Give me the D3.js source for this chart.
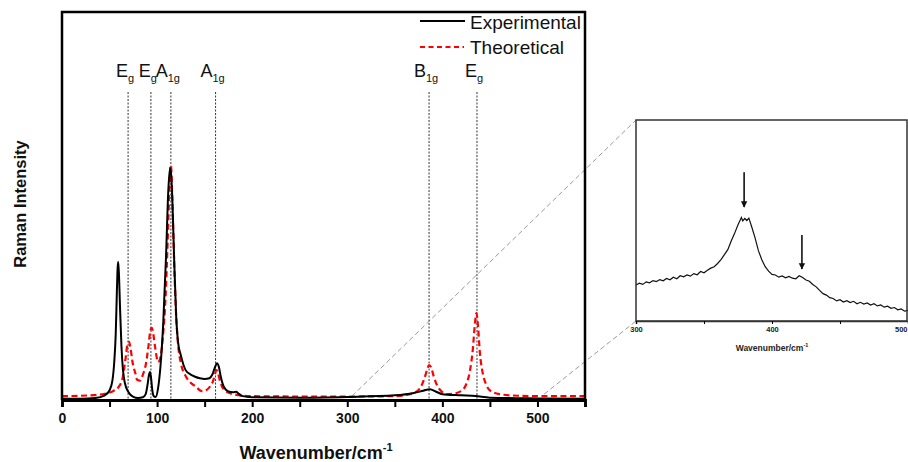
<!DOCTYPE html>
<html><head><meta charset="utf-8">
<script src="https://cdn.jsdelivr.net/npm/d3@7"></script>
<style>body{margin:0;background:#fff;}svg{display:block;font-family:Arial,"Liberation Sans",sans-serif;}</style>
</head><body><svg id="c" width="908" height="462"></svg>
<script>
// ---- Main spectrum data (wavenumber, intensity in arbitrary units) ----
const expX = [0,20,35,45,50,53,55,56.5,57.5,58.3,59,59.8,61,62.5,64,66,70,75,80,85,88,90,91.5,92.5,93.5,95,96.5,98.5,101,103.5,106.5,109.4,111.8,113.6,114.8,116,117,118,120,122,125,130,135,140,145,150,155,158,161,163,165,167,170,175,180,183,186,190,200,250,300,350,370,380,387,393,400,420,435,450,500,550];
const expY = [0.3,0.3,0.5,1.2,2.5,5,10,17,26,33,35.6,33,24,14,8,4.5,2,0.8,0.5,0.7,1.5,4,6.5,7.2,6,2.5,1,0.8,3,8.5,20,37,54,59.8,58,52,44,36,22,15,11.5,7.7,6.6,6,5.6,5.4,5.6,6.5,8.5,9.5,8.5,6,3.5,2.2,2,2.1,1.6,1,0.7,0.6,0.8,1.2,1.8,2.4,2.8,2.2,1.5,1.2,1.0,0.6,0.4,0.3];
const theoX = [0,30,45,55,60,64,67,69,70.5,72,74,77,79,82,85,88,91,93,94.5,96,98,101,103,106,109,111,113,114.5,116,118,120,122,125,130,135,140,147,152,156,159,161,162.5,164,166,168,170,175,180,190,200,250,300,350,370,377,381,384,386,388,391,394,398,405,415,420,425,429,432,434,435.8,437.5,439.5,442,446,450,460,480,500,550];
const theoY = [1.0,1.2,1.6,2.5,3.5,6,11,14.5,15,13.5,10,7,5.2,5,6.5,9,14,18,18.6,17,13.5,9.8,10.5,16,27,40,55,60.6,52,35,22,14.5,9.5,6.2,4.5,3.6,2.3,2.6,3.6,5,6.8,7.7,7,5,3.6,2.8,1.9,1.5,1.1,1.0,0.9,0.9,1.0,1.8,3.2,5.5,7.8,9,8.5,6,4,2.5,1.5,1.8,2.4,4,7.5,13,19,22.4,19,12,7.5,4,2.5,1.5,1.1,1.0,1.0];

// Mode markers
const modeX = [69.5,93.5,114.5,161.5,386,436.4];
const modeMain = ["E","E","A","A","B","E"];
const modeSub = ["g","g","1g","1g","1g","g"];

const xTicks = [0,100,200,300,400,500];
const xMinor = [50,150,250,350,450,550];

// ---- Inset data ----
const insX = [300,302.5,305,307.5,310,312.5,315,317.5,320,322.5,325,327.5,330,332.5,335,337.5,340,342.5,345,347.5,350,352.5,355,357.5,360,362.5,365,367.5,370,372.5,375,377.5,378.5,380,381.5,383,385,387.5,390,392.5,395,397.5,400,402.5,405,407.5,410,412.5,415,417.5,420,422.5,425,427.5,430,432.5,435,437.5,440,442.5,445,447.5,450,452.5,455,457.5,460,462.5,465,467.5,470,472.5,475,477.5,480,482.5,485,487.5,490,492.5,495,497.5,500];
const insY = [17.9,18.8,18.2,19.5,19.0,20.1,19.6,20.6,20.0,21.2,20.5,21.8,21.0,22.5,22.0,22.9,22.3,23.6,23.0,24.6,24.0,25.2,26.3,27.0,28.6,30.5,33.0,35.5,39.8,43.6,47.9,51.5,49.8,51.0,50.0,51.2,47.0,41.5,35.0,30.5,27.0,24.8,23.2,22.9,21.8,22.4,21.5,22.2,21.3,21.0,22.5,21.6,20.4,19.8,18.2,17.0,15.2,13.6,12.9,11.6,11.2,10.0,10.6,9.4,10.1,9.2,9.8,8.6,9.3,8.4,9.0,7.9,8.6,7.5,8.0,6.9,7.4,6.3,6.7,5.6,6.0,4.9,5.3];
const insTicks = [300,400,500];
const insMinor = [350,450];
const arrowX = [379.5,422];
const arrowTop = [74,42.8];
const arrowBot = [56.7,25.9];

// ---- Drawing ----
const svg = d3.select("#c");
const x = d3.scaleLinear().domain([0,550]).range([62,585]);
const y = d3.scaleLinear().domain([0,100]).range([400,12]);

// Zoom guide lines (drawn first, under everything)
const ix = d3.scaleLinear().domain([300,500]).range([636,908]);
const iy = d3.scaleLinear().domain([0,100]).range([321,120]);
svg.append("line").attr("x1",x(305)).attr("y1",y(1)).attr("x2",636).attr("y2",120)
  .attr("stroke","#9a9a9a").attr("stroke-width",1).attr("stroke-dasharray","5,3");
svg.append("line").attr("x1",x(507)).attr("y1",y(1.5)).attr("x2",636).attr("y2",321)
  .attr("stroke","#9a9a9a").attr("stroke-width",1).attr("stroke-dasharray","5,3");

// Mode dotted lines
svg.append("g").selectAll("line").data(modeX).join("line")
  .attr("x1",d=>x(d)).attr("x2",d=>x(d)).attr("y1",92).attr("y2",400)
  .attr("stroke","#333").attr("stroke-width",1).attr("stroke-dasharray","2,1.5");

// Mode labels
const lab = svg.append("g").selectAll("text").data(modeX).join("text")
  .attr("x",(d,i)=>x(d)-3).attr("y",77).attr("text-anchor","middle")
  .attr("font-size",18).attr("fill","#111");
lab.append("tspan").text((d,i)=>modeMain[i]);
lab.append("tspan").attr("dy",5).attr("font-size",11).text((d,i)=>modeSub[i]);

// curves
const lineGen = (xs,ys)=>d3.line().x(i=>x(xs[i])).y(i=>y(ys[i])).curve(d3.curveMonotoneX)(d3.range(xs.length));
svg.append("path").attr("d",lineGen(theoX,theoY)).attr("fill","none")
  .attr("stroke","#ff0000").attr("stroke-width",2.2).attr("stroke-dasharray","6,3.5");
svg.append("path").attr("d",lineGen(expX,expY)).attr("fill","none")
  .attr("stroke","#000").attr("stroke-width",2);

// frame
svg.append("path").attr("d",`M${x(0)},400V12H${x(550)}V400`).attr("fill","none")
  .attr("stroke","#000").attr("stroke-width",2.5);

// x-axis
const xa = svg.append("g").attr("transform","translate(0,400)")
  .call(d3.axisBottom(x).tickValues(xTicks).tickFormat(d3.format("d")).tickSize(7).tickPadding(6));
xa.select(".domain").attr("stroke-width",2.8);
xa.selectAll(".tick line").attr("stroke-width",2);
xa.selectAll("text").attr("font-size",14).attr("font-weight","bold").attr("font-family","Arial, 'Liberation Sans', sans-serif").attr("fill","#111");
svg.append("g").attr("transform","translate(0,400)")
  .call(d3.axisBottom(x).tickValues(xMinor).tickFormat("").tickSize(7))
  .call(g=>g.select(".domain").remove()).selectAll(".tick line").attr("stroke-width",2);

// axis titles
const xt = svg.append("text").attr("x",316).attr("y",459).attr("text-anchor","middle")
  .attr("font-size",18).attr("font-weight","bold").attr("fill","#111");
xt.append("tspan").text("Wavenumber/cm");
xt.append("tspan").attr("dy",-8).attr("font-size",11).text("-1");
svg.append("text").attr("transform","translate(26,204) rotate(-90)").attr("text-anchor","middle")
  .attr("font-size",16.5).attr("font-weight","bold").attr("fill","#111").text("Raman Intensity");

// legend
svg.append("line").attr("x1",420).attr("x2",465).attr("y1",21).attr("y2",21).attr("stroke","#000").attr("stroke-width",2);
svg.append("text").attr("x",470).attr("y",29).attr("font-size",19).attr("fill","#111").text("Experimental");
svg.append("line").attr("x1",420).attr("x2",464).attr("y1",47).attr("y2",47).attr("stroke","#ff0000").attr("stroke-width",2).attr("stroke-dasharray","5,3.5");
svg.append("text").attr("x",470).attr("y",54).attr("font-size",19).attr("fill","#111").text("Theoretical");

// ---- Inset ----
const ins = svg.append("g");
ins.append("path").attr("d",d3.line().x(i=>ix(insX[i])).y(i=>iy(insY[i]))(d3.range(insX.length)))
  .attr("fill","none").attr("stroke","#111").attr("stroke-width",1.2);
ins.append("rect").attr("x",636).attr("y",120).attr("width",271).attr("height",201)
  .attr("fill","none").attr("stroke","#333").attr("stroke-width",1.5);
const ia = ins.append("g").attr("transform","translate(0,321)")
  .call(d3.axisBottom(ix).tickValues(insTicks).tickFormat(d3.format("d")).tickSize(3).tickPadding(3));
ia.select(".domain").attr("stroke","#333").attr("stroke-width",1.5);
ia.selectAll("text").attr("font-size",7.5).attr("font-weight","bold").attr("font-family","Arial, 'Liberation Sans', sans-serif").attr("fill","#222")
  .attr("text-anchor",d=>d===500?"end":"middle").attr("dx",d=>d===500?-1:0);
ins.append("g").attr("transform","translate(0,321)")
  .call(d3.axisBottom(ix).tickValues(insMinor).tickFormat("").tickSize(3))
  .call(g=>g.select(".domain").remove());
const it = ins.append("text").attr("x",772).attr("y",351).attr("text-anchor","middle")
  .attr("font-size",8.5).attr("font-weight","bold").attr("fill","#222");
it.append("tspan").text("Wavenumber/cm");
it.append("tspan").attr("dy",-4).attr("font-size",5.5).text("-1");

// arrows
svg.append("defs").append("marker").attr("id","ah").attr("viewBox","0 0 10 10")
  .attr("refX",9).attr("refY",5).attr("markerWidth",4).attr("markerHeight",5).attr("orient","auto")
  .attr("markerUnits","strokeWidth")
  .append("path").attr("d","M0,0L10,5L0,10Z").attr("fill","#111");
ins.append("g").selectAll("line").data(arrowX).join("line")
  .attr("x1",d=>ix(d)).attr("x2",d=>ix(d))
  .attr("y1",(d,i)=>iy(arrowTop[i])).attr("y2",(d,i)=>iy(arrowBot[i]))
  .attr("stroke","#111").attr("stroke-width",1.6).attr("marker-end","url(#ah)");
</script></body></html>
